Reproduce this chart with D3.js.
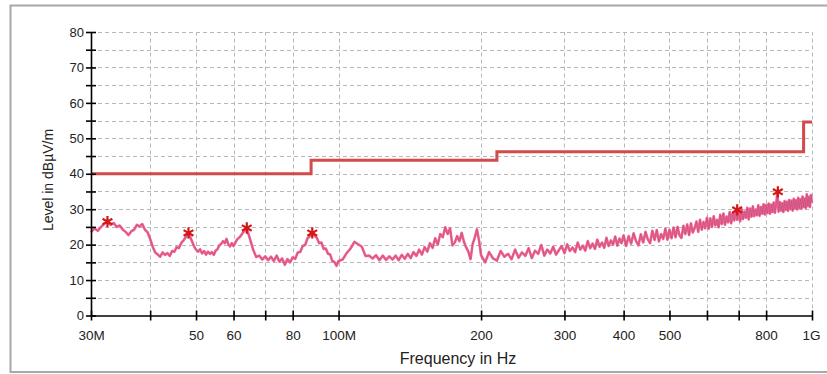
<!DOCTYPE html>
<html>
<head>
<meta charset="utf-8">
<script src="https://cdn.jsdelivr.net/npm/d3@7"></script>
<style>
  html, body { margin: 0; padding: 0; background: #fff; }
  svg { display: block; font-family: Arial, "Liberation Sans", sans-serif; }
</style>
</head>
<body>
<svg id="chart" width="827" height="374"></svg>
<script>
// ---- data ----
const yTicks = [0, 10, 20, 30, 40, 50, 60, 70, 80];
const yMinorTicks = [5, 15, 25, 35, 45, 55, 65, 75];
const xTickFreqs = [30, 40, 50, 60, 70, 80, 100, 200, 300, 400, 500, 600, 700, 800, 1000];
const xLabelFreqs = [30, 50, 60, 80, 100, 200, 300, 400, 500, 800, 1000];
const xLabelTexts = ["30M", "50", "60", "80", "100M", "200", "300", "400", "500", "800", "1G"];

// limit line (step)
const limitFreqs = [30, 87.5, 216, 960, 1000];
const limitLevels = [40, 43.8, 46.2, 54.6, 54.6];

// measured trace (MHz, dBµV/m)
const traceFreqs = [
  30,30.5,31,31.5,32,32.5,33,33.5,34,34.5,35,35.5,36,36.5,37,37.5,38,38.5,39,39.5,
  40,40.5,41,41.5,42,42.5,43,43.5,44,44.5,45,45.5,46,46.5,47,47.5,48,48.5,49,49.5,
  50,50.5,51,51.5,52,52.5,53,53.5,54,54.5,55,55.5,56,56.5,57,57.5,58,58.5,59,59.5,60,
  61,62,63,64,65,66,67,68,69,70,71,72,73,74,75,76,77,78,79,80,
  81,82,83,84,85,86,87,88,89,90,91,92,93,94,95,96,97,98,99,100,
  102,104,106,108,110,112,114,116,118,120,122,124,126,128,130,132,134,136,138,140,
  142,144,146,148,150,152,154,156,158,160,162,164,166,168,170,172,174,176,178,180,
  182,184,186,188,190,192,194,196,198,200,
  204,208,212,216,220,224,228,232,236,240,244,248,252,256,260,264,268,272,276,280,
  284,288,292,296,300,304,308,312,316,320,324,328,332,336,340,344,348,352,356,360,
  364,368,372,376,380,384,388,392,396,400,
  405,410,415,420,425,430,435,440,445,450,455,460,465,470,475,480,485,490,495,500,
  505,510,515,520,525,530,535,540,545,550,555,560,565,570,575,580,585,590,595,600,
  605,610,615,620,625,630,635,640,645,650,655,660,665,670,675,680,685,690,695,700,
  705,710,715,720,725,730,735,740,745,750,755,760,765,770,775,780,785,790,795,800,
  805,810,815,820,825,830,835,840,845,850,855,860,865,870,875,880,885,890,895,900,
  905,910,915,920,925,930,935,940,945,950,955,960,965,970,975,980,985,990,995,1000
];
const traceLevels = [
  23.5,24.6,23.9,25.0,25.9,26.4,25.6,26.1,25.0,25.4,24.3,23.6,22.7,23.8,24.2,25.6,25.1,25.8,24.2,23.5,
  21.6,19.4,17.8,17.2,16.6,17.8,17.1,17.6,16.8,18.2,18.0,19.3,19.0,20.4,21.1,22.0,23.1,22.4,21.0,19.6,
  18.6,18.0,18.7,17.5,18.2,17.2,18.0,17.4,17.9,17.1,18.3,18.7,19.8,20.2,21.0,20.4,21.6,20.1,19.5,20.4,19.6,
  21.4,22.3,23.6,24.6,21.6,18.6,16.5,16.9,15.8,16.7,15.6,16.6,15.4,16.9,15.2,16.1,14.3,15.9,15.0,16.4,
  16.0,17.8,17.9,19.6,19.9,21.8,22.4,23.5,22.5,21.9,20.4,20.6,18.8,18.9,17.4,17.2,15.4,15.1,14.0,15.4,
  15.8,17.6,18.9,20.8,20.1,19.4,16.8,16.9,16.1,17.0,15.6,16.9,15.7,16.7,15.8,16.9,15.6,17.1,16.0,17.4,
  16.2,17.9,16.8,18.6,17.2,19.3,18.0,20.4,19.1,21.8,20.0,23.0,22.1,24.9,23.0,24.6,19.8,20.6,22.4,21.0,
  23.3,20.8,19.2,18.0,15.9,20.2,22.0,24.3,21.2,17.0,
  15.0,17.9,16.1,15.5,18.2,16.6,17.4,15.9,18.6,16.3,17.8,16.8,19.0,16.2,18.3,17.4,19.9,16.9,18.6,17.5,
  19.4,17.2,18.4,19.6,17.6,20.1,18.2,19.2,17.9,20.6,18.6,19.7,18.3,21.0,19.0,20.3,18.8,21.4,19.4,20.6,
  19.1,21.9,19.6,21.2,20.0,22.3,19.7,21.7,20.4,22.6,
  19.6,22.4,20.3,23.2,21.0,19.8,22.9,20.6,23.6,21.5,20.4,23.9,21.3,24.1,20.9,23.0,21.6,24.5,21.4,24.2,
  21.8,24.8,22.1,25.0,22.6,21.9,25.3,23.0,25.7,22.7,26.0,23.4,24.6,26.5,23.6,27.0,24.2,26.4,24.6,27.6,
  24.5,27.4,25.0,28.0,25.4,27.0,24.9,28.4,25.8,28.8,25.6,27.9,26.3,29.2,26.0,29.0,26.8,29.6,27.0,29.5,
  26.6,30.0,27.2,29.3,27.6,30.4,27.1,30.2,27.9,30.8,28.0,29.9,28.3,31.1,28.1,30.6,28.7,31.4,28.5,31.2,
  28.9,31.6,28.7,31.3,29.2,31.9,29.0,31.5,34.6,29.3,32.0,29.6,31.7,29.2,32.3,29.8,32.1,29.5,32.6,30.0,
  32.4,29.6,32.9,30.2,32.5,29.9,33.2,30.4,32.8,30.1,33.6,30.6,33.0,30.3,34.2,30.9,33.5,30.6,34.0,31.8
];

// peak markers
const markerFreqs = [32.5, 48.2, 64, 88, 695, 847];
const markerLevels = [26.5, 23.3, 24.7, 23.3, 29.8, 34.9];

// ---- chart ----
const svg = d3.select("#chart");

// outer frame
svg.append("rect")
  .attr("x", 10.5).attr("y", 5.5)
  .attr("width", 830).attr("height", 366.5)
  .attr("fill", "none").attr("stroke", "#a8a8a8").attr("stroke-width", 2);

const x = d3.scaleLog().domain([30, 1000]).range([91, 812]);
const y = d3.scaleLinear().domain([0, 80]).range([315.5, 32]);

// grid
const grid = svg.append("g").attr("class", "grid");
grid.selectAll("line.h")
  .data(yTicks.filter(d => d > 0).concat(yMinorTicks))
  .join("line")
  .attr("x1", 91).attr("x2", 812)
  .attr("y1", d => Math.round(y(d)) + 0.5).attr("y2", d => Math.round(y(d)) + 0.5)
  .attr("stroke", "#b8b8b8").attr("stroke-width", 1)
  .attr("stroke-dasharray", "4,3");
grid.selectAll("line.v")
  .data(xTickFreqs.filter(d => d > 30))
  .join("line")
  .attr("x1", d => Math.round(x(d)) + 0.5).attr("x2", d => Math.round(x(d)) + 0.5)
  .attr("y1", y(0)).attr("y2", y(80))
  .attr("stroke", "#b8b8b8").attr("stroke-width", 1)
  .attr("stroke-dasharray", "4,3");

// limit line
const limitPts = limitFreqs.map((f, i) => [f, limitLevels[i]]);
svg.append("path")
  .datum(limitPts)
  .attr("fill", "none")
  .attr("stroke", "#d24a4a")
  .attr("stroke-width", 3)
  .attr("d", d3.line().x(d => x(d[0])).y(d => y(d[1])).curve(d3.curveStepAfter));

// trace
const tracePts = traceFreqs.map((f, i) => [f, traceLevels[i]]);
const traceLine = d3.line().x(d => x(d[0])).y(d => y(d[1]));
svg.append("path")
  .datum(tracePts)
  .attr("fill", "none")
  .attr("stroke", "#f4608f")
  .attr("stroke-width", 2.6)
  .attr("stroke-linejoin", "round")
  .attr("d", traceLine);
svg.append("path")
  .datum(tracePts)
  .attr("fill", "none")
  .attr("stroke", "#8a4a78")
  .attr("stroke-opacity", 0.5)
  .attr("stroke-width", 0.7)
  .attr("d", traceLine);

// markers
svg.selectAll("path.marker")
  .data(markerFreqs.map((f, i) => [f, markerLevels[i]]))
  .join("path")
  .attr("class", "marker")
  .attr("transform", d => `translate(${x(d[0])},${y(d[1])})`)
  .attr("d", d3.symbol(d3.symbolAsterisk, 90))
  .attr("fill", "none")
  .attr("stroke", "#d41616")
  .attr("stroke-width", 2.2);

// axes
const yAxis = d3.axisLeft(y).tickValues(yTicks.concat(yMinorTicks))
  .tickSizeInner(4.5).tickSizeOuter(0).tickFormat(d => (d % 10 === 0 ? d : ""));
const gy = svg.append("g").attr("transform", "translate(91,0)").call(yAxis);
gy.select(".domain").attr("stroke", "#000").attr("stroke-width", 1.6);
gy.selectAll(".tick line").attr("x2", -5).attr("x1", 5).attr("stroke", "#000").attr("stroke-width", 1.6);
gy.selectAll(".tick text").attr("x", -7).attr("font-size", 13)
  .attr("font-family", "Arial, 'Liberation Sans', sans-serif").attr("fill", "#222");

const xAxis = d3.axisBottom(x).tickValues(xTickFreqs).tickSizeInner(5).tickSizeOuter(0)
  .tickFormat(d => { const i = xLabelFreqs.indexOf(d); return i >= 0 ? xLabelTexts[i] : ""; });
const gx = svg.append("g").attr("transform", `translate(0,${y(0)})`).call(xAxis);
gx.select(".domain").attr("stroke", "#000").attr("stroke-width", 1.6);
gx.selectAll(".tick line").attr("y1", -5).attr("y2", 5).attr("stroke", "#000").attr("stroke-width", 1.6);
gx.selectAll(".tick text").attr("y", 15).attr("font-size", 13.5)
  .attr("font-family", "Arial, 'Liberation Sans', sans-serif").attr("fill", "#222");
gx.selectAll(".tick text").filter(d => d === 1000).attr("text-anchor", "end").attr("dx", 8);

// axis titles
svg.append("text")
  .attr("x", 458).attr("y", 364)
  .attr("text-anchor", "middle")
  .attr("font-size", 16)
  .attr("fill", "#222")
  .text("Frequency in Hz");
svg.append("text")
  .attr("transform", "translate(53,180) rotate(-90)")
  .attr("text-anchor", "middle")
  .attr("font-size", 14)
  .attr("fill", "#222")
  .text("Level in dBµV/m");
</script>
</body>
</html>
